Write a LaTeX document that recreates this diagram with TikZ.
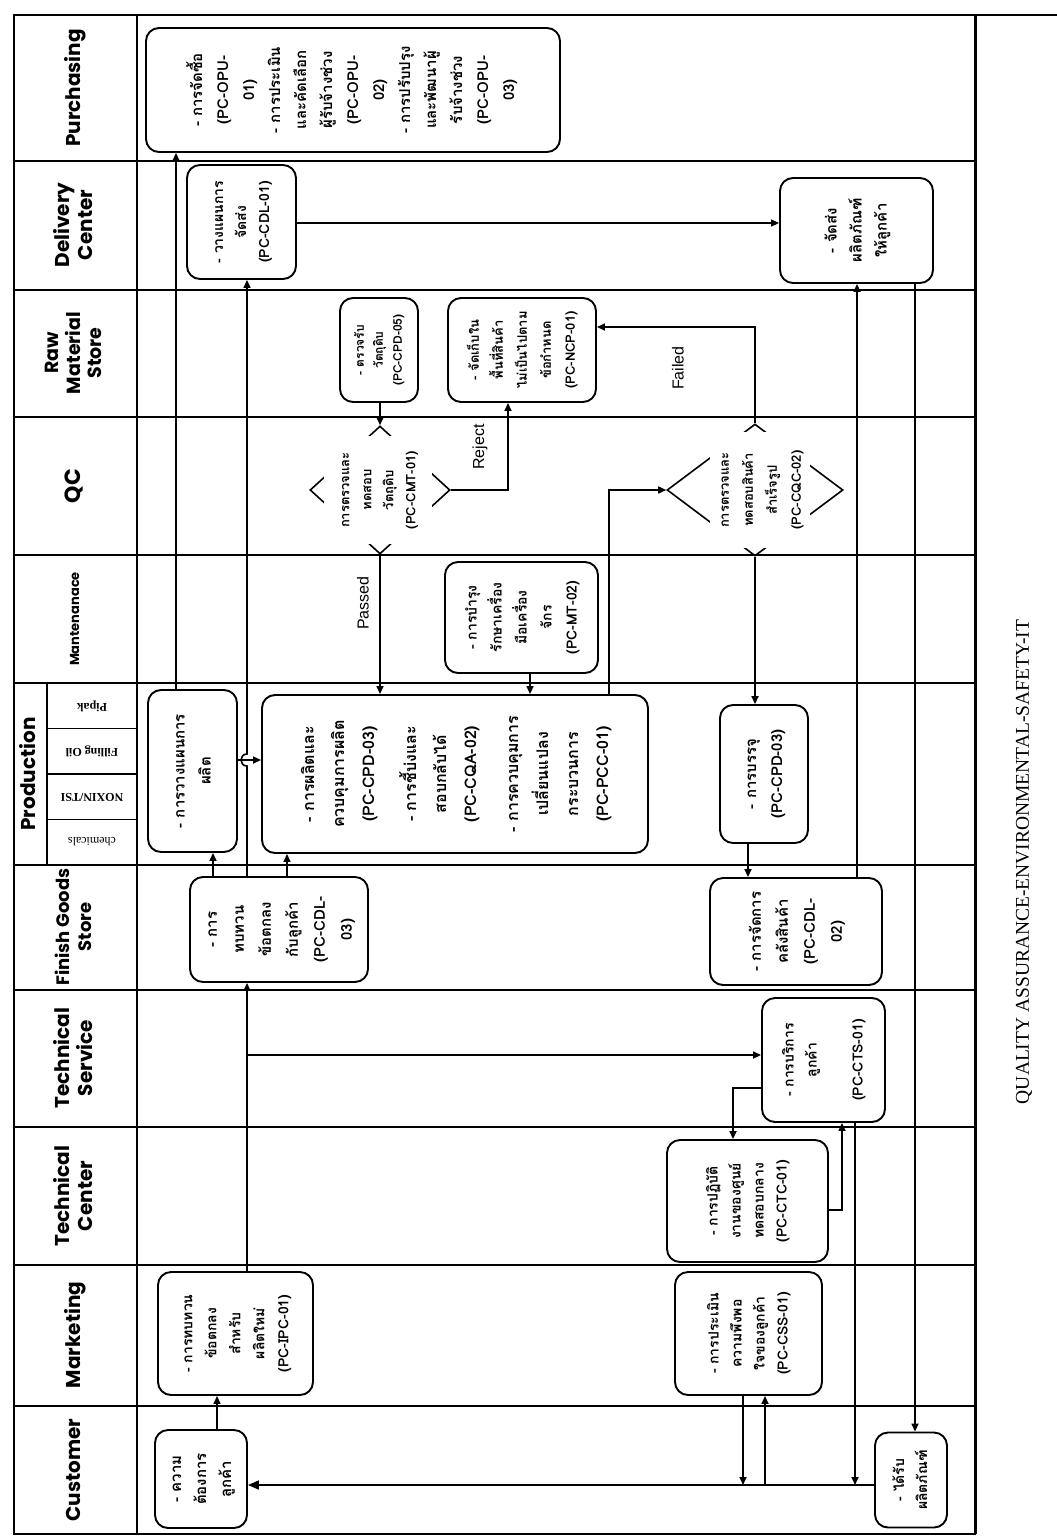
\documentclass[tikz,border=0pt]{standalone}
\usepackage{fontspec}
\usepackage{graphicx}
\usetikzlibrary{arrows.meta,shapes.geometric}
\newfontfamily\thaifont[Script=Thai]{Loma}
\newfontfamily\headfont{Poppins}
\newfontfamily\labelfont{Liberation Sans}
\newfontfamily\capfont{Liberation Serif}
% text set upright in the landscape chart, turned a quarter
\newcommand{\vstack}[1]{\rotatebox{90}{\begin{tabular}{@{}c@{}}#1\end{tabular}}}
\newcommand{\fs}[2]{\fontsize{#1}{#2}\selectfont}
\begin{document}
\begin{tikzpicture}[x=1pt,y=-1pt,
  lane/.style={line width=1.6pt},
  box/.style={draw, line width=1.9pt, rounded corners=13pt, inner sep=0pt,
    font=\thaifont\bfseries\fs{14}{23}},
  diam/.style={draw, diamond, line width=1.6pt, inner sep=0pt},
  dtext/.style={fill=white, inner sep=0pt, font=\thaifont\bfseries\fs{13}{22}},
  flow/.style={line width=1.6pt, -{Triangle[length=8pt,width=7pt]}},
  head/.style={inner sep=0pt, font=\headfont\bfseries\fs{20}{23}},
  sub/.style={inner sep=0pt, rotate=180, font=\capfont\bfseries\fs{12}{14}},
  lbl/.style={inner sep=0pt, rotate=90, font=\labelfont\fs{16}{18}}]
\fill[white] (0,0) rectangle (1057,1539);
\useasboundingbox (0,0) rectangle (1057,1539);

% frame and swimlanes
\draw[lane] (14,15) rectangle (975,1534);
\draw[lane] (975,15) -- (1057,15);
\draw[line width=3pt] (975,15) -- (975,1534);
\draw[lane] (137,15) -- (137,1534);
\foreach \yy in {161,290,417,555,683,865,990,1127,1265,1406}
  \draw[lane] (14,\yy) -- (975,\yy);
\draw[lane] (47,683) -- (47,865);
\foreach \yy in {728.5,774,819.5}
  \draw[lane] (47,\yy) -- (137,\yy);

% lane headers
\node[head] (hPur) at (76,88) {\vstack{Purchasing}};
\node[head] (hDel) at (76,225) {\vstack{Delivery\\Center}};
\node[head, font=\headfont\bfseries\fs{19}{21}] (hRaw) at (76,353) {\vstack{Raw\\Material\\Store}};
\node[head, font=\headfont\bfseries\fs{22}{24}] (hQC) at (76,486) {\vstack{QC}};
\node[head, font=\headfont\bfseries\fs{13}{15}] (hMain) at (76,619) {\vstack{Mantenanace}};
\node[head] (hPro) at (31,774) {\vstack{Production}};
\node[sub] (sPip) at (92,706) {Pipak};
\node[sub] (sFil) at (92,751) {Filling Oil};
\node[sub] (sNox) at (92,797) {NOXIN/TSI};
\node[sub, font=\capfont\fs{12}{14}] (sChe) at (92,842) {chemicals};
\node[head, font=\headfont\bfseries\fs{18}{22}] (hFGS) at (76,927) {\vstack{Finish Goods\\Store}};
\node[head] (hTS) at (76,1058) {\vstack{Technical\\Service}};
\node[head] (hTC) at (76,1196) {\vstack{Technical\\Center}};
\node[head] (hMkt) at (76,1335) {\vstack{Marketing}};
\node[head] (hCus) at (76,1470) {\vstack{Customer}};

% process boxes
\node[box, minimum width=414pt, minimum height=124pt, font=\thaifont\bfseries\fs{15}{26}] (b1) at (353,90)
  {\vstack{- การจัดซื้อ\\(PC-OPU-\\01)\\- การประเมิน\\และคัดเลือก\\ผู้รับจ้างช่วง\\(PC-OPU-\\02)\\- การปรับปรุง\\และพัฒนาผู้\\รับจ้างช่วง\\(PC-OPU-\\03)}};
\node[box, minimum width=109pt, minimum height=114pt] (b2) at (241.5,222)
  {\vstack{- วางแผนการ\\จัดส่ง\\(PC-CDL-01)}};
\node[box, minimum width=153pt, minimum height=105pt, font=\thaifont\bfseries\fs{15}{25}] (b3) at (856.5,230.5)
  {\vstack{- จัดส่ง\\ผลิตภัณฑ์\\ให้ลูกค้า}};
\node[box, minimum width=78pt, minimum height=104pt, font=\thaifont\bfseries\fs{12}{19}] (b4) at (379,350)
  {\vstack{- ตรวจรับ\\วัตถุดิบ\\(PC-CPD-05)}};
\node[box, minimum width=148pt, minimum height=104pt, font=\thaifont\bfseries\fs{13}{24}] (b5) at (522,350)
  {\vstack{- จัดเก็บใน\\พื้นที่สินค้า\\ไม่เป็นไปตาม\\ข้อกำหนด\\(PC-NCP-01)}};
\node[box, minimum width=153pt, minimum height=111pt, font=\thaifont\bfseries\fs{14}{25}] (b6) at (521.5,617.5)
  {\vstack{- การบำรุง\\รักษาเครื่อง\\มือเครื่อง\\จักร\\(PC-MT-02)}};
\node[box, minimum width=89pt, minimum height=162pt, font=\thaifont\bfseries\fs{15}{26}] (b7) at (192.5,771)
  {\vstack{- การวางแผนการ\\ผลิต}};
\node[box, minimum width=386pt, minimum height=158pt, font=\thaifont\bfseries\fs{16}{30}] (b8) at (455,774)
  {\vstack{- การผลิตและ\\ควบคุมการผลิต\\(PC-CPD-03)\\[12pt]- การชี้บ่งและ\\สอบกลับได้\\(PC-CQA-02)\\[12pt]- การควบคุมการ\\เปลี่ยนแปลง\\กระบวนการ\\(PC-PCC-01)}};
\node[box, minimum width=88pt, minimum height=138pt, font=\thaifont\bfseries\fs{15}{26}] (b9) at (764,774)
  {\vstack{- การบรรจุ\\(PC-CPD-03)}};
\node[box, minimum width=178pt, minimum height=105pt, font=\thaifont\bfseries\fs{15}{27}] (b10) at (279,929.5)
  {\vstack{- การ\\ทบทวน\\ข้อตกลง\\กับลูกค้า\\(PC-CDL-\\03)}};
\node[box, minimum width=172pt, minimum height=107pt, font=\thaifont\bfseries\fs{15}{27}] (b11) at (796,931.5)
  {\vstack{- การจัดการ\\คลังสินค้า\\(PC-CDL-\\02)}};
\node[box, minimum width=123pt, minimum height=124pt] (b12) at (823.5,1060)
  {\vstack{- การบริการ\\ลูกค้า\\ \\(PC-CTS-01)}};
\node[box, minimum width=161pt, minimum height=122pt] (b13) at (747.5,1201)
  {\vstack{- การปฏิบัติ\\งานของศูนย์\\ทดสอบกลาง\\(PC-CTC-01)}};
\node[box, minimum width=155pt, minimum height=123pt, font=\thaifont\bfseries\fs{14}{24}] (b14) at (235.5,1333.5)
  {\vstack{- การทบทวน\\ข้อตกลง\\สำหรับ\\ผลิตใหม่\\(PC-IPC-01)}};
\node[box, minimum width=147pt, minimum height=123pt] (b15) at (748.5,1333.5)
  {\vstack{- การประเมิน\\ความพึงพอ\\ใจของลูกค้า\\(PC-CSS-01)}};
\node[box, minimum width=92pt, minimum height=98pt, font=\thaifont\bfseries\fs{15}{25}] (b16) at (201,1479)
  {\vstack{- ความ\\ต้องการ\\ลูกค้า}};
\node[box, minimum width=72pt, minimum height=95pt] (b17) at (911,1480)
  {\vstack{- ได้รับ\\ผลิตภัณฑ์}};

% decisions
\node[diam, minimum width=140pt, minimum height=128pt] (d1) at (380,490) {};
\node[dtext, minimum width=108pt, minimum height=108pt] (d1t) at (378,490)
  {\vstack{การตรวจและ\\ทดสอบ\\วัตถุดิบ\\(PC-CMT-01)}};
\node[diam, minimum width=176pt, minimum height=132pt] (d2) at (755,490) {};
\node[dtext, minimum width=100pt, minimum height=116pt, font=\thaifont\bfseries\fs{13}{24}] (d2t) at (760,490)
  {\vstack{การตรวจและ\\ทดสอบสินค้า\\สำเร็จรูป\\(PC-CQC-02)}};

% flow
\coordinate (j1) at (247,1055);
\coordinate (j2) at (855,1485);
\coordinate (j3) at (743,1485);
\coordinate (j4) at (765,1485);
\draw[flow] (b16.north -| 217,0) -- (b14.south -| 217,0);
\draw[flow] (b14.north -| 247,0) -- (b10.south -| 247,0);
\draw[flow] (j1) -- (b12.west |- j1);
\draw[flow] (b10.north -| 213,0) -- (b7.south -| 213,0);
\draw[flow] (b10.north -| 247,0) -- (247,766) .. controls (239,766) and (239,754) .. (247,754) -- (b2.south -| 247,0);
\draw[flow] (b10.north -| 287,0) -- (b8.south -| 287,0);
\draw[flow] (b7.north -| 176,0) -- (b1.south -| 176,0);
\draw[flow] (b7.east |- 0,760) -- (b8.west |- 0,760);
\draw[flow] (b2.east |- 0,223) -- (b3.west |- 0,223);
\draw[flow] (b4.south -| d1.north) -- (d1.north);
\draw[flow] (d1.south) -- (d1.south |- b8.north);
\draw[flow] (d1.east) -| (b5.south -| 508,0);
\draw[flow] (b6.south -| 530,0) -- (b8.north -| 530,0);
\draw[flow] (b8.north -| 609,0) |- (d2.west);
\draw[flow] (d2.north) |- (b5.east |- 0,327);
\draw[flow] (d2.south) -- (d2.south |- b9.north);
\draw[flow] (b9.south -| 748,0) -- (b11.north -| 748,0);
\draw[flow] (b11.north -| 857,0) -- (b3.south -| 857,0);
\draw[flow] (b3.south -| 915,0) -- (b17.north -| 915,0);
\draw[flow] (b12.west |- 0,1088) -| (b13.north -| 733,0);
\draw[flow] (b13.east |- 0,1210) -| (b12.south -| 842,0);
\draw[flow] (b12.south -| 855,0) -- (j2);
\draw[flow, -{Triangle[length=11pt,width=9pt]}] (b17.west |- j2) -- (b16.east |- j2);
\draw[flow] (b15.south -| j3) -- (j3);
\draw[flow] (j4) -- (b15.south -| j4);

\node[lbl] (lPass) at (363,603) {Passed};
\node[lbl] (lRej) at (480,447) {Reject};
\node[lbl] (lFail) at (678,368) {Failed};

\node[rotate=90, inner sep=0pt, font=\capfont\fs{19.5}{22}] (cap) at (1024,862)
  {QUALITY ASSURANCE-ENVIRONMENTAL-SAFETY-IT};
\end{tikzpicture}
\end{document}
